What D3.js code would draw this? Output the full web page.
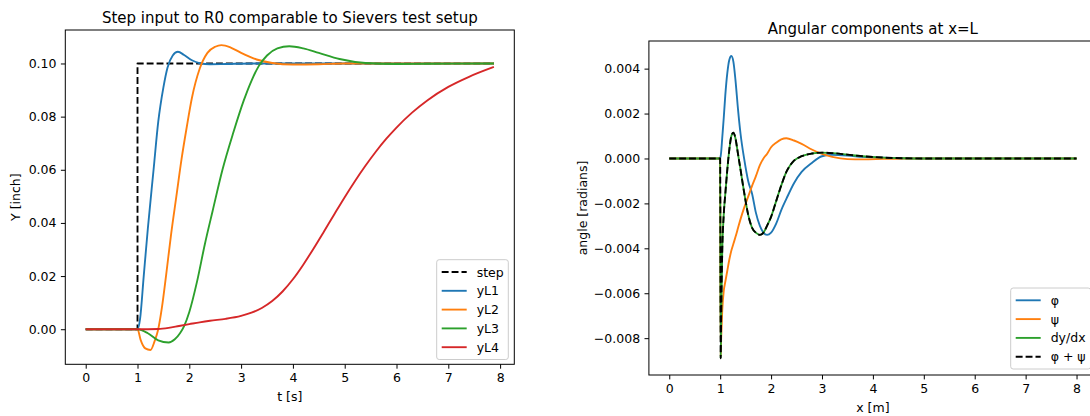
<!DOCTYPE html>
<html>
<head>
<meta charset="utf-8">
<script src="https://cdn.jsdelivr.net/npm/d3@7"></script>
<style>
  html, body { margin: 0; padding: 0; background: #fff; }
  svg { display: block; overflow: hidden; }
  text { font-family: "DejaVu Sans", sans-serif; fill: #000; }
</style>
</head>
<body>
<svg id="chart" width="1090" height="416"></svg>
<script>
// ---- left panel: step response ----
const tStep = [0, 1.0, 1.0, 7.88];
const step = [0, 0, 0.1, 0.1];

const tL1 = [0, 1.0, 1.05, 1.12, 1.2, 1.31, 1.4, 1.5, 1.58, 1.68, 1.78, 1.9, 2.05, 2.2, 2.4, 2.7, 3.2, 7.88];
const yL1 = [0, 0, 0.004, 0.020, 0.038, 0.060, 0.078, 0.091, 0.0985, 0.1030, 0.1044, 0.1032, 0.1012, 0.1001, 0.0997, 0.0998, 0.1, 0.1];

const tL2 = [0, 1.0, 1.06, 1.15, 1.25, 1.33, 1.40, 1.47, 1.55, 1.65, 1.75, 1.85, 1.95, 2.05, 2.2, 2.35, 2.5, 2.62, 2.8, 3.0, 3.3, 3.6, 4.0, 4.5, 5.0, 7.88];
const yL2 = [0, 0, -0.004, -0.0072, -0.0078, -0.0045, 0, 0.008, 0.020, 0.036, 0.050, 0.064, 0.076, 0.087, 0.098, 0.1040, 0.1063, 0.1069, 0.1060, 0.1040, 0.1015, 0.1002, 0.0996, 0.0997, 0.1, 0.1];

const tL3 = [0, 1.0, 1.2, 1.4, 1.6, 1.72, 1.82, 1.9, 2.0, 2.15, 2.3, 2.45, 2.64, 2.85, 3.05, 3.2, 3.34, 3.5, 3.7, 3.93, 4.2, 4.5, 4.9, 5.4, 6.0, 6.6, 7.88];
const yL3 = [0, 0, -0.0015, -0.0042, -0.0050, -0.0038, -0.0015, 0.0012, 0.0065, 0.0180, 0.0320, 0.0445, 0.0600, 0.0740, 0.0860, 0.0935, 0.0990, 0.1030, 0.1057, 0.1065, 0.1057, 0.1040, 0.1017, 0.1002, 0.0998, 0.0999, 0.1];

const tL4 = [0, 1.0, 1.4, 1.6, 1.8, 2.0, 2.2, 2.4, 2.7, 3.0, 3.2, 3.4, 3.6, 3.8, 4.0, 4.2, 4.4, 4.6, 4.8, 5.0, 5.2, 5.4, 5.6, 5.8, 6.0, 6.3, 6.6, 7.0, 7.4, 7.88];
const yL4 = [0, 0, 0.0001, 0.0005, 0.0012, 0.0019, 0.0026, 0.0032, 0.0039, 0.0050, 0.0062, 0.0080, 0.0106, 0.0142, 0.0188, 0.0243, 0.0304, 0.0368, 0.0433, 0.0497, 0.0558, 0.0615, 0.0668, 0.0716, 0.0759, 0.0815, 0.0862, 0.0912, 0.0950, 0.0987];

const leftTicksX = [0, 1, 2, 3, 4, 5, 6, 7, 8];
const leftTicksY = [0, 0.02, 0.04, 0.06, 0.08, 0.10];

// ---- right panel: angular components ----
const xPos = [0, 0.5, 0.995, 1.0, 1.01, 1.02, 1.04, 1.07, 1.1, 1.14, 1.18, 1.22, 1.26, 1.3, 1.35, 1.4, 1.47, 1.55, 1.63, 1.7, 1.78, 1.85, 1.92, 2.0, 2.1, 2.2, 2.3, 2.45, 2.6, 2.8, 3.0, 3.2, 3.5, 3.8, 4.2, 4.6, 5.0, 6.0, 7.0, 8.0];
const phi = [0, 0, 0, 0, 0.0001, 0.0003, 0.0009, 0.0018, 0.0028, 0.0038, 0.0044, 0.00456, 0.0043, 0.0035, 0.0022, 0.0011, 0, -0.0010, -0.0016, -0.0024, -0.0030, -0.0033, -0.0034, -0.0033, -0.0029, -0.0023, -0.0018, -0.0011, -0.0006, -0.0002, 0.0001, 0.00016, 0.00013, 0.00007, 0.00003, 0.00001, 0, 0, 0, 0];
const psi = [0, 0, 0, 0, -0.0088, -0.0080, -0.0068, -0.0059, -0.0055, -0.0050, -0.0045, -0.0041, -0.0038, -0.0035, -0.0031, -0.0027, -0.0022, -0.0017, -0.0012, -0.0008, -0.0003, 0.0000, 0.0002, 0.0005, 0.0007, 0.00085, 0.0009, 0.0008, 0.00065, 0.0004, 0.0002, 0.00007, -0.00003, -0.00004, -0.00002, 0, 0, 0, 0, 0];
const dydx = [0, 0, 0, 0, -0.0089, -0.0070, -0.0042, -0.0025, -0.0016, -0.0005, 0.0004, 0.0010, 0.00115, 0.0009, 0.0002, -0.0005, -0.0015, -0.0025, -0.0031, -0.0033, -0.0034, -0.0033, -0.0030, -0.0026, -0.0019, -0.0012, -0.0006, -0.0001, 0.0001, 0.00022, 0.00026, 0.00024, 0.00017, 0.0001, 0.00004, 0.00001, 0, 0, 0, 0];
const phiPlusPsi = [0, 0, 0, 0, -0.0089, -0.0070, -0.0042, -0.0025, -0.0016, -0.0005, 0.0004, 0.0010, 0.00115, 0.0009, 0.0002, -0.0005, -0.0015, -0.0025, -0.0031, -0.0033, -0.0034, -0.0033, -0.0030, -0.0026, -0.0019, -0.0012, -0.0006, -0.0001, 0.0001, 0.00022, 0.00026, 0.00024, 0.00017, 0.0001, 0.00004, 0.00001, 0, 0, 0, 0];

const rightTicksX = [0, 1, 2, 3, 4, 5, 6, 7, 8];
const rightTicksY = [-0.008, -0.006, -0.004, -0.002, 0, 0.002, 0.004];

const blue = "#1f77b4", orange = "#ff7f0e", green = "#2ca02c", red = "#d62728";
const lw = 1.875;
const dash = "6.9,3";
const fs = 12.5;

const svg = d3.select("#chart");
svg.append("rect").attr("width", 1090).attr("height", 416).attr("fill", "#fff");

const minus = s => s.replace("-", "\u2212");

function drawPanel(cfg) {
    const x = d3.scaleLinear().domain(cfg.xDomain).range([cfg.left, cfg.right]);
    const y = d3.scaleLinear().domain(cfg.yDomain).range([cfg.bottom, cfg.top]);
    const g = svg.append("g");

    cfg.series.forEach(s => {
        const pts = s.xs.map((v, i) => [v, s.ys[i]]);
        const line = d3.line()
            .x(d => x(d[0]))
            .y(d => y(d[1]))
            .curve(s.linear ? d3.curveLinear : d3.curveMonotoneX);
        g.append("path")
            .attr("d", line(pts))
            .attr("fill", "none")
            .attr("stroke", s.color)
            .attr("stroke-width", lw)
            .attr("stroke-dasharray", s.dashed ? dash : null)
            .attr("stroke-linejoin", "round");
    });

    // axes
    const xAxis = d3.axisBottom(x).tickValues(cfg.ticksX).tickSize(4.4).tickPadding(4.4)
        .tickFormat(d3.format("d"));
    const gx = g.append("g").attr("transform", `translate(0,${cfg.bottom})`).call(xAxis);
    const yAxis = d3.axisLeft(y).tickValues(cfg.ticksY).tickSize(4.4).tickPadding(4.4)
        .tickFormat(d => minus(d3.format(cfg.yFormat)(d)));
    const gy = g.append("g").attr("transform", `translate(${cfg.left},0)`).call(yAxis);
    [gx, gy].forEach(a => {
        a.select(".domain").remove();
        a.selectAll(".tick line").attr("stroke", "#000").attr("stroke-width", 1);
        a.selectAll(".tick text").attr("font-size", fs).attr("font-family", "DejaVu Sans").attr("fill", "#000");
    });

    g.append("rect")
        .attr("x", cfg.left).attr("y", cfg.top)
        .attr("width", cfg.right - cfg.left).attr("height", cfg.bottom - cfg.top)
        .attr("fill", "none").attr("stroke", "#000").attr("stroke-width", 1);

    // titles and labels
    g.append("text").attr("x", (cfg.left + cfg.right) / 2).attr("y", cfg.top - 7)
        .attr("text-anchor", "middle").attr("font-size", 15).text(cfg.title);
    g.append("text").attr("x", (cfg.left + cfg.right) / 2).attr("y", cfg.bottom + 36.8)
        .attr("text-anchor", "middle").attr("font-size", fs).text(cfg.xLabel);
    g.append("text")
        .attr("transform", `translate(${cfg.yLabelX},${(cfg.top + cfg.bottom) / 2}) rotate(-90)`)
        .attr("text-anchor", "middle").attr("font-size", fs).text(cfg.yLabel);

    // legend
    const L = cfg.legend;
    const pitch = 18.8;
    const n = cfg.series.length;
    const lg = g.append("g");
    lg.append("rect")
        .attr("x", L.left).attr("y", L.bottom - (n - 1) * pitch - 24.6)
        .attr("width", L.width).attr("height", (n - 1) * pitch + 24.6)
        .attr("rx", 2.5)
        .attr("fill", "#fff").attr("fill-opacity", 0.8)
        .attr("stroke", "#cccccc").attr("stroke-width", 1);
    cfg.series.forEach((s, i) => {
        const cy = L.bottom - 12.3 - (n - 1 - i) * pitch;
        lg.append("line")
            .attr("x1", L.left + 5).attr("x2", L.left + 30)
            .attr("y1", cy).attr("y2", cy)
            .attr("stroke", s.color).attr("stroke-width", lw)
            .attr("stroke-dasharray", s.dashed ? dash : null);
        lg.append("text").attr("x", L.left + 40).attr("y", cy + 4.5)
            .attr("font-size", fs).text(s.name);
    });
}

drawPanel({
    left: 65.3, right: 514.3, top: 30, bottom: 364.3,
    xDomain: [-0.394, 8.274], yDomain: [-0.0132, 0.1126],
    ticksX: leftTicksX, ticksY: leftTicksY, yFormat: ".2f",
    title: "Step input to R0 comparable to Sievers test setup",
    xLabel: "t [s]", yLabel: "Y [inch]", yLabelX: 19.6,
    legend: { left: 436.7, width: 71.6, bottom: 359.5 },
    series: [
        { name: "step", xs: tStep, ys: step, color: "#000", dashed: true, linear: true },
        { name: "yL1", xs: tL1, ys: yL1, color: blue },
        { name: "yL2", xs: tL2, ys: yL2, color: orange },
        { name: "yL3", xs: tL3, ys: yL3, color: green },
        { name: "yL4", xs: tL4, ys: yL4, color: red }
    ]
});

drawPanel({
    left: 648.9, right: 1096.9, top: 41, bottom: 375,
    xDomain: [-0.4, 8.4], yDomain: [-0.00964, 0.00523],
    ticksX: rightTicksX, ticksY: rightTicksY, yFormat: ".3f",
    title: "Angular components at x=L",
    xLabel: "x [m]", yLabel: "angle [radians]", yLabelX: 587.2,
    legend: { left: 1010.7, width: 80, bottom: 369 },
    series: [
        { name: "\u03c6", xs: xPos, ys: phi, color: blue },
        { name: "\u03c8", xs: xPos, ys: psi, color: orange },
        { name: "dy/dx", xs: xPos, ys: dydx, color: green },
        { name: "\u03c6 + \u03c8", xs: xPos, ys: phiPlusPsi, color: "#000", dashed: true }
    ]
});
</script>
</body>
</html>
